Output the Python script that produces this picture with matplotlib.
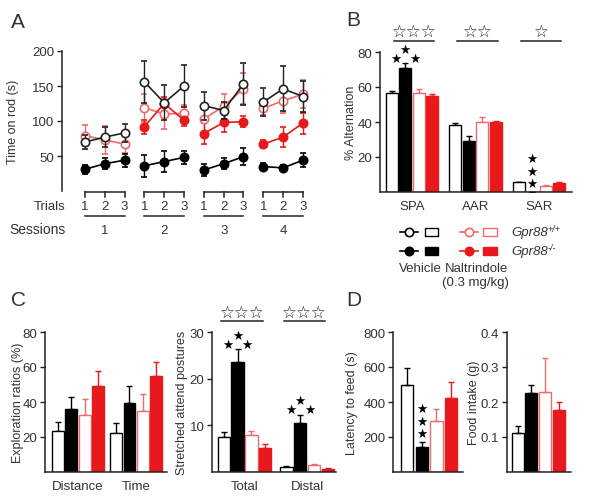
import numpy as np
import matplotlib
matplotlib.use("Agg")
import matplotlib.pyplot as plt

plt.rcParams['font.family'] = ['Liberation Sans', 'DejaVu Sans']

# ---------------- data ----------------
trial_labels = ['1', '2', '3']
session_labels = ['1', '2', '3', '4']
wt_veh = [70, 77, 83, 156, 126, 150, 122, 115, 153, 127, 146, 135]
wt_veh_err = [10, 14, 13, 30, 25, 30, 20, 12, 30, 20, 32, 22]
ko_veh = [31, 39, 44, 36, 42, 48, 30, 39, 49, 35, 33, 44]
ko_veh_err = [6, 8, 9, 16, 15, 9, 9, 8, 12, 5, 4, 10]
wt_nal = [79, 73, 67, 119, 110, 111, 103, 121, 146, 118, 129, 138]
wt_nal_err = [15, 20, 12, 20, 22, 12, 18, 18, 22, 10, 18, 20]
ko_nal = [np.nan, np.nan, np.nan, 92, 125, 101, 82, 98, 99, 67, 77, 97]
ko_nal_err = [np.nan, np.nan, np.nan, 10, 10, 8, 15, 14, 8, 6, 14, 15]

b_categories = ['SPA', 'AAR', 'SAR']
b_wt_veh = [56.5, 38.5, 5.5]
b_ko_veh = [71, 29, 0]
b_wt_nal = [56.5, 40, 3.3]
b_ko_nal = [55, 40, 5.3]
b_wt_veh_err = [1, 1, 0.5]
b_ko_veh_err = [2.5, 3, 0]
b_wt_nal_err = [2.5, 3, 0.5]
b_ko_nal_err = [1, 0.6, 0.5]
b_open_stars = ['☆☆☆', '☆☆', '☆']

c1_categories = ['Distance', 'Time']
c1_wt_veh = [23.5, 22.5]
c1_ko_veh = [36, 39.5]
c1_wt_nal = [32.5, 35]
c1_ko_nal = [49, 55]
c1_wt_veh_err = [5, 5.5]
c1_ko_veh_err = [7, 9.5]
c1_wt_nal_err = [9, 9.5]
c1_ko_nal_err = [8.5, 8]

c2_categories = ['Total', 'Distal']
c2_wt_veh = [7.5, 1.0]
c2_ko_veh = [23.5, 10.4]
c2_wt_nal = [7.9, 1.4]
c2_ko_nal = [5.2, 0.7]
c2_wt_veh_err = [1.0, 0.2]
c2_ko_veh_err = [2.8, 1.9]
c2_wt_nal_err = [0.9, 0.4]
c2_ko_nal_err = [0.7, 0.2]
c2_open_stars = ['☆☆☆', '☆☆☆']

d1_values = [500, 143, 290, 425]
d1_err = [95, 28, 72, 88]
d2_values = [0.111, 0.225, 0.228, 0.176]
d2_err = [0.021, 0.024, 0.097, 0.024]

# ---------------- style ----------------
RED = '#e8191c'
RED_L = '#ef6a6a'
TXT = '#333333'
SP = '#222222'
FS = 9.5
W, H = 600, 502
faces = ['white', 'black', 'white', RED]
edges = ['black', 'black', RED_L, RED]
ecols = ['black', 'black', RED_L, RED]

fig = plt.figure(figsize=(6.0, 5.02), dpi=100)


def rect(l, t, r, b):
    return [l / W, 1 - b / H, (r - l) / W, (b - t) / H]


def style(ax, ylim, yticks, yticklabels=None):
    for s in ['top', 'right']:
        ax.spines[s].set_visible(False)
    ax.spines['left'].set_color(SP)
    ax.spines['bottom'].set_color(SP)
    ax.spines['left'].set_linewidth(1.1)
    ax.spines['bottom'].set_linewidth(1.1)
    ax.set_ylim(*ylim)
    ax.spines['left'].set_bounds(ylim[0], ylim[1])
    ax.set_yticks(yticks)
    if yticklabels is not None:
        ax.set_yticklabels(yticklabels)
    ax.tick_params(axis='y', direction='out', length=3.5, width=1.0, color=SP,
                   labelsize=FS, labelcolor=TXT, pad=2)
    ax.tick_params(axis='x', length=0, labelsize=FS, labelcolor=TXT, pad=6)
    ax.patch.set_alpha(0)


def px2pt(p):
    return p * 72 / 100.0


def bars(ax, groups, series, errs, spacing, width):
    groups = np.asarray(groups, dtype=float)
    for i, (vals, err) in enumerate(zip(series, errs)):
        x = groups + (i - 1.5) * spacing
        ax.bar(x, vals, width=width, color=faces[i], edgecolor=edges[i],
               linewidth=1.0, zorder=2)
        ax.errorbar(x, vals, yerr=[np.zeros(len(vals)), err], fmt='none',
                    ecolor=ecols[i], elinewidth=1.0, capsize=2.2, capthick=1.0,
                    zorder=1.5)


def tri_stars(ax, x, top):
    for dx, dy in [(-9.5, 5), (9.5, 5), (0, 14)]:
        ax.annotate('★', xy=(x, top), xytext=(px2pt(dx), px2pt(dy)),
                    textcoords='offset points', ha='center', va='center',
                    fontsize=9, family='DejaVu Sans', color='black',
                    annotation_clip=False)


def col_stars(ax, x, top):
    for dy in [9, 21, 34]:
        ax.annotate('★', xy=(x, top), xytext=(0, px2pt(dy)),
                    textcoords='offset points', ha='center', va='center',
                    fontsize=9, family='DejaVu Sans', color='black',
                    annotation_clip=False)


def ylab(ax, text, xpx, axl, axr):
    ax.set_ylabel(text, fontsize=9, color=TXT)
    ax.yaxis.set_label_coords((xpx + 4 - axl) / (axr - axl), 0.5)


def panel_letter(txt, xpx, ypx):
    fig.text(xpx / W, 1 - ypx / H, txt, fontsize=15, color=TXT,
             ha='left', va='center')


# ---------------- Panel A ----------------
axA = fig.add_axes(rect(62, 52, 312, 192))
style(axA, (0, 200), [50, 100, 150, 200])
axA.spines['bottom'].set_visible(False)
axA.set_xticks([])
axA.set_xlim(-1.16, 11.46)
xA = np.arange(12)
series_A = [
    (wt_nal, wt_nal_err, RED_L, 'white', RED_L, 3),
    (ko_nal, ko_nal_err, RED, RED, RED, 3),
    (wt_veh, wt_veh_err, '#222222', 'white', '#222222', 4),
    (ko_veh, ko_veh_err, 'black', 'black', 'black', 4),
]
for vals, err, col, mfc, mec, z in series_A:
    vals = np.asarray(vals, dtype=float)
    err = np.asarray(err, dtype=float)
    for s in range(4):
        sl = slice(s * 3, s * 3 + 3)
        axA.errorbar(xA[sl], vals[sl], yerr=err[sl], color=col, marker='o',
                     ms=6, mfc=mfc, mec=mec, mew=1.2, lw=1.2, elinewidth=1.0,
                     capsize=2.5, capthick=1.0, zorder=z)
# trial / session brackets (annotation)
for s in range(4):
    xs = xA[s * 3:s * 3 + 3]
    axA.plot([xs[0], xs[-1]], [-1.5, -1.5], color=SP, lw=1.1, clip_on=False)
    for xi, tl in zip(xs, trial_labels):
        axA.plot([xi, xi], [-1.5, -8], color=SP, lw=1.1, clip_on=False)
        axA.text(xi, -21.5, tl, ha='center', va='center', fontsize=FS,
                 color=TXT, clip_on=False)
    axA.plot([xs[0], xs[-1]], [-36, -36], color=SP, lw=1.1, clip_on=False)
    axA.text(xs[1], -55, session_labels[s], ha='center', va='center',
             fontsize=FS, color=TXT, clip_on=False)
axA.text(-1.0, -21.5, 'Trials', ha='right', va='center', fontsize=FS,
         color=TXT, clip_on=False)
axA.text(-1.0, -55, 'Sessions', ha='right', va='center', fontsize=FS + 0.5,
         color=TXT, clip_on=False)
ylab(axA, 'Time on rod (s)', 15, 62, 312)
panel_letter('A', 11, 23)

# ---------------- Panel B ----------------
axB = fig.add_axes(rect(380, 53, 572, 193))
style(axB, (0, 80), [20, 40, 60, 80])
gB = np.arange(3)
bars(axB, gB, [b_wt_veh, b_ko_veh, b_wt_nal, b_ko_nal],
     [b_wt_veh_err, b_ko_veh_err, b_wt_nal_err, b_ko_nal_err], 0.212, 0.19)
axB.set_xlim(-0.504, 2.52)
axB.set_xticks(gB)
axB.set_xticklabels(b_categories)
for g, st in zip(gB, b_open_stars):
    axB.text(g + 0.03, 92, st, ha='center', va='center', fontsize=12,
             family='DejaVu Sans', color='#222222', clip_on=False)
    axB.plot([g + 0.03 - 0.32, g + 0.03 + 0.32], [86.3, 86.3], color='#222222',
             lw=1.1, clip_on=False)
xblackB = gB - 0.5 * 0.212
tri_stars(axB, xblackB[0], b_ko_veh[0] + b_ko_veh_err[0])
col_stars(axB, xblackB[2], b_ko_veh[2] + b_ko_veh_err[2])
ylab(axB, '% Alternation', 353, 380, 572)
panel_letter('B', 346, 20)

# legend (manual, in pixel space)
axL = fig.add_axes(rect(380, 220, 600, 295))
axL.set_xlim(380, 600)
axL.set_ylim(295, 220)
axL.axis('off')
for (ly, filled) in [(233, False), (252, True)]:
    for (lx0, col, rx0, rw) in [(400, 'black', 425, 12.5), (460, RED, 483, 14)]:
        mfc = col if filled else 'white'
        ec = col if (col == 'black' or filled) else RED_L
        axL.plot([lx0, lx0 + 18], [ly, ly], color=ec, lw=1.2)
        axL.plot([lx0 + 9], [ly], marker='o', ms=6, mfc=mfc, mec=ec, mew=1.2)
        axL.add_patch(plt.Rectangle((rx0, ly - 3.8), rw, 7.6, facecolor=mfc,
                                    edgecolor=ec, lw=1.0))
for ly, sup in [(233, '+/+'), (252, '-/-')]:
    t = axL.text(511, ly, 'Gpr88', ha='left', va='center', fontsize=FS,
                 color=TXT, style='italic')
    axL.annotate(sup, xy=(1.0, 0.78), xycoords=t, ha='left', va='center',
                 fontsize=6.5, color=TXT, style='italic')
axL.text(420, 269, 'Vehicle', ha='center', va='center', fontsize=FS, color=TXT)
axL.text(477, 269, 'Naltrindole', ha='center', va='center', fontsize=FS, color=TXT)
axL.text(475, 283, '(0.3 mg/kg)', ha='center', va='center', fontsize=FS, color=TXT)

# ---------------- Panel C left ----------------
axC1 = fig.add_axes(rect(45, 333, 167, 473))
style(axC1, (0, 80), [20, 40, 60, 80])
gC1 = np.arange(2)
bars(axC1, gC1, [c1_wt_veh, c1_ko_veh, c1_wt_nal, c1_ko_nal],
     [c1_wt_veh_err, c1_ko_veh_err, c1_wt_nal_err, c1_ko_nal_err], 0.231, 0.205)
axC1.set_xlim(-0.57, 1.53)
axC1.set_xticks(gC1)
axC1.set_xticklabels(c1_categories)
ylab(axC1, 'Exploration ratios (%)', 20, 45, 167)
panel_letter('C', 11, 301)

# ---------------- Panel C right ----------------
axC2 = fig.add_axes(rect(212, 333, 336, 473))
style(axC2, (0, 30), [10, 20, 30])
gC2 = np.arange(2)
bars(axC2, gC2, [c2_wt_veh, c2_ko_veh, c2_wt_nal, c2_ko_nal],
     [c2_wt_veh_err, c2_ko_veh_err, c2_wt_nal_err, c2_ko_nal_err], 0.221, 0.197)
axC2.set_xlim(-0.52, 1.46)
axC2.set_xticks(gC2)
axC2.set_xticklabels(c2_categories)
for g, st in zip(gC2, c2_open_stars):
    axC2.text(g - 0.04, 34.4, st, ha='center', va='center', fontsize=12,
              family='DejaVu Sans', color='#222222', clip_on=False)
    axC2.plot([g - 0.04 - 0.33, g - 0.04 + 0.33], [32.3, 32.3], color='#222222',
              lw=1.1, clip_on=False)
xblackC = gC2 - 0.5 * 0.221
for i in range(2):
    tri_stars(axC2, xblackC[i], c2_ko_veh[i] + c2_ko_veh_err[i])
ylab(axC2, 'Stretched attend postures', 184, 212, 336)

# ---------------- Panel D ----------------
axD1 = fig.add_axes(rect(393, 333, 463, 473))
style(axD1, (0, 800), [200, 400, 600, 800])
xD = np.arange(4)
for i in range(4):
    axD1.bar(xD[i], d1_values[i], width=0.84, color=faces[i], edgecolor=edges[i],
             lw=1.0, zorder=2)
    axD1.errorbar(xD[i], d1_values[i], yerr=[[0], [d1_err[i]]], fmt='none',
                  ecolor=ecols[i], elinewidth=1.0, capsize=2.2, capthick=1.0)
axD1.set_xlim(-0.95, 3.81)
axD1.set_xticks([])
col_stars(axD1, xD[1], d1_values[1] + d1_err[1])
ylab(axD1, 'Latency to feed (s)', 354, 393, 463)
panel_letter('D', 346, 300)

axD2 = fig.add_axes(rect(507, 333, 571, 473))
style(axD2, (0, 0.4), [0.1, 0.2, 0.3, 0.4], ['0.1', '0.2', '0.3', '0.4'])
for i in range(4):
    axD2.bar(xD[i], d2_values[i], width=0.86, color=faces[i], edgecolor=edges[i],
             lw=1.0, zorder=2)
    axD2.errorbar(xD[i], d2_values[i], yerr=[[0], [d2_err[i]]], fmt='none',
                  ecolor=ecols[i], elinewidth=1.0, capsize=2.2, capthick=1.0)
axD2.set_xlim(-0.76, 3.85)
axD2.set_xticks([])
ylab(axD2, 'Food intake (g)', 476, 507, 571)

fig.savefig('out.png', dpi=100)
